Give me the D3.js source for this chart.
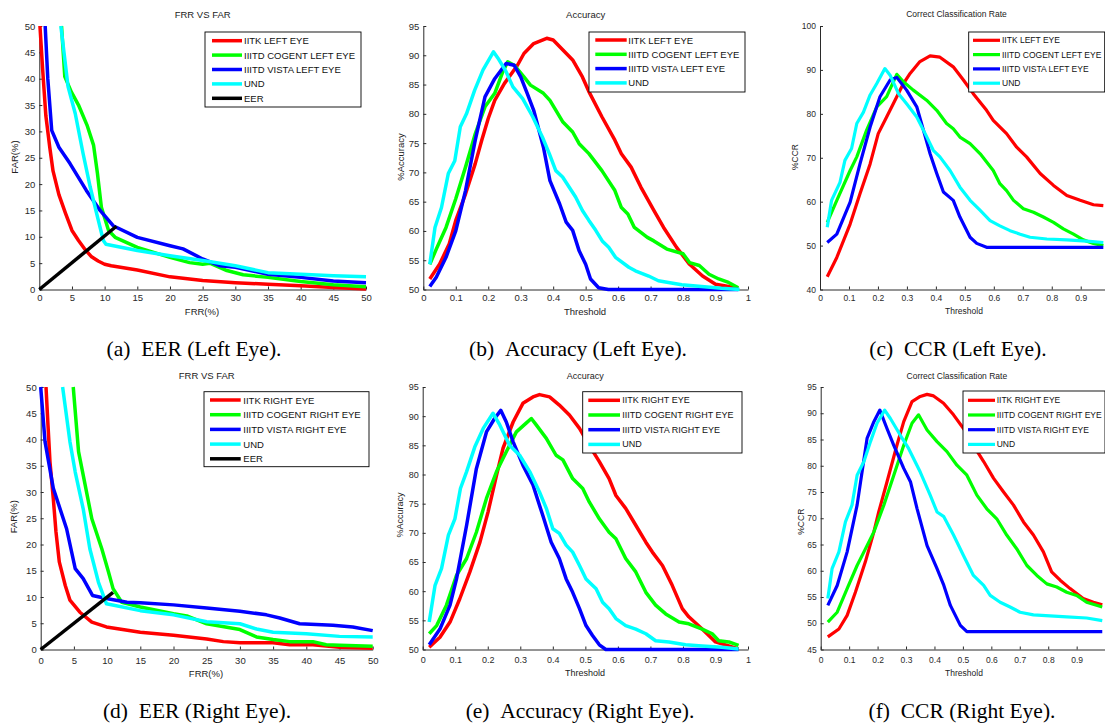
<!DOCTYPE html>
<html lang="en">
<head>
<meta charset="UTF-8">
<title>EER, Accuracy and CCR curves</title>
<script src="https://d3js.org/d3.v7.min.js"></script>
<style>
  body { margin: 0; background: #fff; }
  svg { display: block; }
  .cap { font-family: "Liberation Serif", "Times New Roman", serif; fill: #000; }
</style>
</head>
<body>
<div id="chart"></div>
<script>
// ---- data: [x, y] pairs ----
// (a) EER left eye  [FRR %, FAR %]
const eerLeftIitk   = [[0.1,50],[0.5,42],[1,33],[1.6,27],[2.1,22.5],[3,18],[4,14.5],[5,11.2],[6,9.3],[7,7.6],[8,6.2],[9,5.4],[10,4.8],[11,4.5],[15,3.7],[20,2.4],[25,1.7],[30,1.3],[35,1.0],[40,0.7],[45,0.4],[50,0.1]];
const eerLeftCogent = [[3.4,50],[3.9,40.4],[4.9,37.5],[6,35],[7.3,31.2],[8.3,27.4],[8.9,22],[9.5,15.6],[10.6,11.2],[11.6,9.9],[15,8],[20,6.1],[23,5.1],[25,4.8],[26.1,5],[28.7,3.6],[31.2,2.8],[35,2.3],[40,1.5],[45,0.9],[50,0.5]];
const eerLeftVista  = [[0.9,50],[1.3,40],[1.9,30.2],[3,27],[4.7,23.9],[7.2,18.8],[9.3,15],[11.3,12.1],[15,9.9],[20,8.3],[22,7.7],[25,5.8],[27.7,4.5],[30,4.2],[35,2.9],[40,2.3],[45,1.6],[50,1.3]];
const eerLeftUnd    = [[3.3,50],[4.4,38.5],[5.5,33.4],[6.7,25.8],[7.8,19.4],[8.8,14.3],[9.8,9.3],[10.2,8.6],[15,7.4],[20,6.4],[25,5.5],[30,4.5],[35,3.2],[40,2.9],[45,2.6],[50,2.4]];
const eerLeftLine   = [[0,0],[11.8,12]];

// (d) EER right eye
const eerRightIitk   = [[0.8,50],[1.1,42.7],[1.4,35.7],[1.9,28.7],[2.3,22.4],[2.8,16.7],[3.7,12.2],[4.4,9.4],[5.9,7.1],[7.7,5.2],[9.9,4.3],[15,3.3],[20,2.7],[25,2.0],[27.5,1.5],[30,1.3],[35,1.3],[37.5,0.9],[41,0.9],[45,0.45],[50,0.25]];
const eerRightCogent = [[4.9,50],[5.7,37.7],[6.7,31.3],[7.7,24.9],[9.2,19.2],[10.2,14.8],[10.9,11.6],[12.2,9],[15,8.1],[20,6.8],[22,6.4],[25,4.9],[30,3.8],[32.5,2.4],[35,1.9],[37.5,1.5],[41,1.5],[43,0.9],[45,0.8],[50,0.6]];
const eerRightVista  = [[0,50],[0.65,39.6],[1.9,30.7],[3.9,23],[5.2,15.4],[6.4,13.5],[7.8,10.3],[9.9,9.7],[13,9],[15,8.9],[20,8.5],[25,7.9],[30,7.3],[34,6.6],[36,6.0],[39,4.9],[44,4.6],[47,4.3],[50,3.6]];
const eerRightUnd    = [[3.3,50],[4.4,39.6],[5.2,33.8],[6.4,26.8],[7.4,19.2],[8.7,12.8],[9.9,8.7],[15,7.4],[20,6.6],[25,5.3],[30,4.9],[32.5,3.9],[35,3.3],[40,3.0],[45,2.5],[50,2.4]];
const eerRightLine   = [[0,0],[10.9,10.9]];

// (b) accuracy left eye  [threshold, %accuracy]
const accLeftIitk   = [[0.02,51.8],[0.05,54.3],[0.08,57.8],[0.1,61.8],[0.13,66.3],[0.16,71.5],[0.18,75.5],[0.2,79.2],[0.22,82.3],[0.25,85.2],[0.29,88.3],[0.31,90.3],[0.34,92],[0.38,92.9],[0.4,92.6],[0.43,90.9],[0.46,89.2],[0.49,86.3],[0.51,83.8],[0.55,79.5],[0.59,75.5],[0.61,73.2],[0.64,70.9],[0.67,67.5],[0.71,63.5],[0.74,60.6],[0.78,57.2],[0.82,54.3],[0.86,52.3],[0.9,50.9],[0.94,50.5],[0.97,50.1]];
const accLeftCogent = [[0.02,54.3],[0.04,56.9],[0.07,60.6],[0.1,65.5],[0.13,70.9],[0.16,76.6],[0.19,81.2],[0.22,83.5],[0.245,87.2],[0.26,88.9],[0.28,88.3],[0.31,86.3],[0.33,84.9],[0.37,83.5],[0.39,82.3],[0.43,78.6],[0.46,76.9],[0.48,74.9],[0.51,73.2],[0.55,70.3],[0.59,66.9],[0.61,64],[0.63,62.9],[0.65,60.6],[0.69,58.9],[0.71,58.3],[0.75,56.9],[0.8,56.1],[0.82,54.6],[0.85,54.1],[0.88,52.6],[0.91,51.8],[0.94,51.2],[0.97,50.3]];
const accLeftVista  = [[0.02,50.5],[0.04,52.1],[0.07,55.5],[0.1,60],[0.13,66.9],[0.16,75.5],[0.19,82.9],[0.22,86],[0.255,88.6],[0.28,88.3],[0.3,86.3],[0.32,83.5],[0.34,80.6],[0.37,74.3],[0.39,68.6],[0.42,64.6],[0.44,61.5],[0.46,60.1],[0.48,56.6],[0.5,54.3],[0.515,51.8],[0.54,50.3],[0.57,50],[0.97,50]];
const accLeftUnd    = [[0.02,54.3],[0.036,60.6],[0.056,64],[0.077,69.8],[0.097,72],[0.114,77.8],[0.133,80],[0.158,84],[0.184,87.5],[0.216,90.6],[0.23,89.5],[0.255,87.2],[0.276,84.6],[0.306,82.6],[0.337,79.5],[0.367,76],[0.388,73.2],[0.408,70.3],[0.429,69.2],[0.449,67.5],[0.469,65.8],[0.49,63.5],[0.51,61.8],[0.531,60.1],[0.551,58.3],[0.571,57.2],[0.592,55.5],[0.633,53.8],[0.653,53.2],[0.694,52.3],[0.724,51.5],[0.755,51.2],[0.796,50.8],[0.857,50.5],[0.918,50.2],[0.974,50]];

// (c) CCR left eye  [threshold, %CCR]
const ccrLeftIitk   = [[0.025,42.9],[0.058,47.3],[0.104,54.9],[0.138,61.8],[0.173,68.6],[0.201,75.5],[0.23,79.3],[0.253,82.3],[0.288,86.9],[0.311,89.2],[0.345,91.9],[0.38,93.2],[0.414,92.9],[0.46,90.7],[0.495,87.7],[0.529,84.6],[0.575,80.8],[0.598,78.5],[0.644,75.5],[0.679,72.4],[0.713,70.2],[0.76,66.4],[0.806,63.7],[0.852,61.4],[0.898,60.3],[0.944,59.3],[0.978,59.1]];
const ccrLeftCogent = [[0.025,55.3],[0.058,60.3],[0.104,67.1],[0.127,70.2],[0.161,76.3],[0.196,81.6],[0.23,83.9],[0.265,89],[0.288,87.3],[0.322,85.4],[0.368,83.1],[0.403,80.8],[0.437,77.8],[0.46,76.6],[0.483,74.7],[0.518,73.2],[0.553,70.9],[0.598,67.1],[0.621,64.1],[0.644,62.5],[0.668,60.3],[0.702,58.4],[0.737,57.6],[0.771,56.5],[0.806,55.3],[0.84,53.8],[0.875,52.6],[0.909,51.3],[0.944,50.5],[0.978,50]];
const ccrLeftVista  = [[0.025,50.7],[0.058,52.6],[0.104,59.9],[0.138,68.6],[0.173,77],[0.207,83.9],[0.242,87.7],[0.265,88.3],[0.299,85.4],[0.334,81.6],[0.357,76.3],[0.38,70.9],[0.403,66.4],[0.426,62.2],[0.46,60.3],[0.483,56.5],[0.518,51.9],[0.541,50.5],[0.575,49.6],[0.978,49.6]];
const ccrLeftUnd    = [[0.025,54.2],[0.04,60.3],[0.069,64.4],[0.086,69.4],[0.109,72.1],[0.127,77.8],[0.15,80.4],[0.173,84.3],[0.196,86.9],[0.224,90.3],[0.242,88.8],[0.271,84.6],[0.299,82.3],[0.334,79.3],[0.363,75.5],[0.391,71.7],[0.414,70.2],[0.449,67.1],[0.483,63.3],[0.518,60.3],[0.553,58],[0.587,55.7],[0.621,54.5],[0.656,53.4],[0.691,52.6],[0.725,51.9],[0.783,51.5],[0.852,51.3],[0.921,51],[0.978,50.7]];

// (e) accuracy right eye
const accRightIitk   = [[0.02,50.4],[0.053,52.1],[0.084,54.7],[0.114,58.7],[0.145,63.3],[0.176,68.4],[0.201,73.6],[0.227,79.9],[0.247,84.5],[0.278,89],[0.308,92.2],[0.339,93.3],[0.359,93.7],[0.39,93.3],[0.42,91.9],[0.451,90.2],[0.482,87.9],[0.512,85],[0.543,82.2],[0.573,79.3],[0.594,76.4],[0.624,74.2],[0.655,71.3],[0.686,68.4],[0.706,66.7],[0.737,64.4],[0.767,61],[0.798,57],[0.818,55.6],[0.859,53.5],[0.9,51.3],[0.941,50.6],[0.971,50.1]];
const accRightCogent = [[0.02,52.7],[0.043,54.1],[0.073,57.6],[0.104,62.7],[0.135,65.6],[0.165,70.1],[0.196,75.9],[0.227,80.5],[0.257,83.9],[0.288,87.3],[0.318,88.8],[0.334,89.6],[0.349,88.5],[0.38,86.2],[0.41,83.3],[0.431,82.5],[0.461,79.3],[0.492,77.6],[0.512,75.3],[0.543,72.4],[0.573,70.1],[0.594,69],[0.624,65.6],[0.655,63.3],[0.686,59.8],[0.716,57.6],[0.747,56.1],[0.788,54.7],[0.818,54.4],[0.859,53.5],[0.89,52.7],[0.91,51.5],[0.941,51.3],[0.971,50.7]];
const accRightVista  = [[0.02,50.8],[0.053,53.5],[0.084,57.6],[0.104,62.1],[0.135,71.3],[0.165,81],[0.196,87.3],[0.221,89.6],[0.24,91],[0.257,89],[0.278,85.6],[0.308,81.6],[0.339,78.2],[0.369,73],[0.395,68.4],[0.42,65.6],[0.441,62.1],[0.461,59.8],[0.482,57],[0.502,54.1],[0.522,52.4],[0.543,50.8],[0.563,50],[0.971,50]];
const accRightUnd    = [[0.02,54.7],[0.038,61],[0.058,63.9],[0.079,69.6],[0.099,72.4],[0.116,77.6],[0.135,80.5],[0.16,84.7],[0.186,87.9],[0.216,90.5],[0.237,88.5],[0.267,85],[0.298,83.3],[0.329,80.5],[0.359,77],[0.38,74.2],[0.4,70.7],[0.42,69.9],[0.441,67.9],[0.461,66.7],[0.482,64.4],[0.502,62.1],[0.533,60.4],[0.553,58.1],[0.573,57],[0.594,55.3],[0.624,54.1],[0.655,53.5],[0.686,52.7],[0.716,51.5],[0.757,51.3],[0.808,50.8],[0.859,50.6],[0.92,50.4],[0.971,50.1]];

// (f) CCR right eye
const ccrRightIitk   = [[0.025,47.4],[0.064,48.9],[0.093,51.5],[0.122,55.9],[0.157,61.7],[0.187,67.4],[0.204,71.2],[0.233,76.9],[0.268,83.9],[0.292,88.4],[0.321,92.2],[0.35,93.2],[0.374,93.6],[0.397,93.3],[0.432,91.9],[0.467,89.7],[0.502,87.1],[0.537,83.9],[0.573,80.8],[0.608,77.6],[0.643,75],[0.678,72.5],[0.713,69.3],[0.748,66.8],[0.783,63.6],[0.812,59.8],[0.842,58.2],[0.877,56.6],[0.923,54.7],[0.959,54],[0.99,53.5]];
const ccrRightCogent = [[0.025,50.2],[0.058,52.1],[0.093,56.6],[0.128,61],[0.152,63.6],[0.187,67.4],[0.222,72.5],[0.257,78.2],[0.292,83.9],[0.321,88.1],[0.344,89.7],[0.374,86.8],[0.409,84.6],[0.444,82.7],[0.479,80.1],[0.514,78.2],[0.549,74.4],[0.584,71.8],[0.619,69.9],[0.654,66.8],[0.689,64.2],[0.725,61],[0.76,59.1],[0.795,57.5],[0.83,56.9],[0.865,55.9],[0.9,55.3],[0.935,54],[0.99,53.1]];
const ccrRightVista  = [[0.025,53.4],[0.058,57.2],[0.093,63.6],[0.128,72.5],[0.163,85.2],[0.187,88.4],[0.208,90.6],[0.233,87.1],[0.257,83.9],[0.292,79.5],[0.316,76.9],[0.339,71.8],[0.374,64.8],[0.409,60.4],[0.433,57.2],[0.456,53.4],[0.491,49.6],[0.514,48.4],[0.99,48.4]];
const ccrRightUnd    = [[0.025,54.7],[0.04,60.4],[0.064,63.6],[0.087,69.3],[0.11,72.5],[0.128,78.2],[0.152,80.8],[0.175,84.6],[0.198,88.1],[0.225,90.6],[0.245,89],[0.28,85.8],[0.309,83.3],[0.35,78.8],[0.385,74.4],[0.409,71.2],[0.433,70.3],[0.467,66.8],[0.502,62.9],[0.537,59.1],[0.573,57.2],[0.596,55.3],[0.631,54],[0.666,53.1],[0.701,52.1],[0.748,51.6],[0.806,51.4],[0.865,51.2],[0.935,51],[0.99,50.5]];

// legend names and tick values
const leftNames  = ["IITK LEFT EYE", "IIITD COGENT LEFT EYE", "IIITD VISTA LEFT EYE", "UND", "EER"];
const rightNames = ["IITK RIGHT EYE", "IIITD COGENT RIGHT EYE", "IIITD VISTA RIGHT EYE", "UND", "EER"];
const lineColors = ["#ff0000", "#00ff00", "#0000ff", "#00ffff", "#000000"];

const frrTicks   = d3.range(0, 51, 5);
const threshTicks = d3.range(0, 11).map(i => i / 10);
const threshTicks9 = d3.range(0, 10).map(i => i / 10);
const accTicks   = d3.range(50, 96, 5);
const ccrTicksL  = d3.range(40, 101, 10);
const ccrTicksR  = d3.range(45, 96, 5);

// layout of the six sub-figures
const panels = [
  { series: [eerLeftIitk, eerLeftCogent, eerLeftVista, eerLeftUnd, eerLeftLine], names: leftNames,
    xr: [39.3, 366], yr: [289.5, 26], xDom: [0, 50], yDom: [0, 50], xTicks: frrTicks, yTicks: frrTicks,
    title: "FRR VS FAR", titleY: 14, xLabel: "FRR(%)", xl: [202, 311], yLabel: "FAR(%)", yl: [14.7, 157],
    caption: "(a)\u00a0\u00a0EER (Left Eye).", cap: [194, 355.5], pad: 5, fs: 9.5, lw: 3.5,
    leg: { x: 205, y: 32, w: 156, h: 75, l0: 212, l1: 242, tx: 244, r0: 40.7, dr: 14.4 } },
  { series: [accLeftIitk, accLeftCogent, accLeftVista, accLeftUnd], names: leftNames,
    xr: [423.3, 748], yr: [289.5, 26], xDom: [0, 1], yDom: [50, 95], xTicks: threshTicks, yTicks: accTicks,
    title: "Accuracy", titleY: 14, xLabel: "Threshold", xl: [585, 311], yLabel: "%Accuracy", yl: [400, 157],
    caption: "(b)\u00a0\u00a0Accuracy (Left Eye).", cap: [578, 355.5], pad: 5, fs: 9.5, lw: 3.5,
    leg: { x: 589, y: 32, w: 156, h: 60, l0: 595.3, l1: 626.7, tx: 628.3, r0: 40, dr: 14.3 } },
  { series: [ccrLeftIitk, ccrLeftCogent, ccrLeftVista, ccrLeftUnd], names: leftNames,
    xr: [820, 1109.7], yr: [289.5, 26], xDom: [0, 1], yDom: [40, 100], xTicks: threshTicks9, yTicks: ccrTicksL,
    title: "Correct Classification Rate", titleY: 14, xLabel: "Threshold", xl: [964, 311], yLabel: "%CCR", yl: [795, 157],
    caption: "(c)\u00a0\u00a0CCR (Left Eye).", cap: [958, 355.5], pad: 5, fs: 8.5, lw: 3.2,
    leg: { x: 968.7, y: 32, w: 136, h: 60, l0: 973, l1: 1000, tx: 1002, r0: 40.3, dr: 14.3 } },
  { series: [eerRightIitk, eerRightCogent, eerRightVista, eerRightUnd, eerRightLine], names: rightNames,
    xr: [40.7, 372.7], yr: [649.5, 387], xDom: [0, 50], yDom: [0, 50], xTicks: frrTicks, yTicks: frrTicks,
    title: "FRR VS FAR", titleY: 375.7, xLabel: "FRR(%)", xl: [206, 673], yLabel: "FAR(%)", yl: [13.3, 516.7],
    caption: "(d)\u00a0\u00a0EER (Right Eye).", cap: [197, 718], pad: 7.5, fs: 9.5, lw: 3.5,
    leg: { x: 204, y: 391.7, w: 165, h: 75, l0: 210, l1: 240.7, tx: 243.3, r0: 400, dr: 14.7 } },
  { series: [accRightIitk, accRightCogent, accRightVista, accRightUnd], names: rightNames,
    xr: [422.7, 748], yr: [649.5, 387], xDom: [0, 1], yDom: [50, 95], xTicks: threshTicks, yTicks: accTicks,
    title: "Accuracy", titleY: 375.7, xLabel: "Threshold", xl: [585, 673], yLabel: "%Accuracy", yl: [400, 515],
    caption: "(e)\u00a0\u00a0Accuracy (Right Eye).", cap: [580, 718], pad: 7.5, fs: 9, lw: 3.5,
    leg: { x: 582.7, y: 391.7, w: 159.3, h: 61.3, l0: 588.3, l1: 620, tx: 622.3, r0: 400.3, dr: 14.7 } },
  { series: [ccrRightIitk, ccrRightCogent, ccrRightVista, ccrRightUnd], names: rightNames,
    xr: [820.7, 1105.1], yr: [649.5, 387], xDom: [0, 1], yDom: [45, 95], xTicks: threshTicks9, yTicks: ccrTicksR,
    title: "Correct Classification Rate", titleY: 375.7, xLabel: "Threshold", xl: [964, 673], yLabel: "%CCR", yl: [800.7, 521.7],
    caption: "(f)\u00a0\u00a0CCR (Right Eye).", cap: [962, 718], pad: 7.5, fs: 8.5, lw: 3.2,
    leg: { x: 963, y: 391, w: 142, h: 62, l0: 968, l1: 995, tx: 996.7, r0: 400.3, dr: 14.7 } }
];

const sans = '"Liberation Sans", Arial, sans-serif';

const svg = d3.select("#chart")
  .append("svg")
  .attr("width", 1105)
  .attr("height", 724);

svg.append("rect").attr("width", 1105).attr("height", 724).attr("fill", "#fff");

panels.forEach(p => {
  const x = d3.scaleLinear().domain(p.xDom).range(p.xr);
  const y = d3.scaleLinear().domain(p.yDom).range(p.yr);
  const g = svg.append("g");

  // axes (ticks point inward, no outer ticks)
  g.append("g")
    .attr("transform", `translate(0,${p.yr[0]})`)
    .call(d3.axisBottom(x).tickValues(p.xTicks).tickSizeInner(-3).tickSizeOuter(0)
      .tickPadding(p.pad).tickFormat(d3.format("~g")))
    .attr("font-size", p.fs).attr("font-family", sans).attr("color", "#2a2a2a");

  g.append("g")
    .attr("transform", `translate(${p.xr[0]},0)`)
    .call(d3.axisLeft(y).tickValues(p.yTicks).tickSizeInner(-3).tickSizeOuter(0).tickPadding(4))
    .attr("font-size", p.fs).attr("font-family", sans).attr("color", "#2a2a2a");

  // curves
  const line = d3.line().x(d => x(d[0])).y(d => y(d[1]));
  g.selectAll(".curve")
    .data(p.series)
    .enter()
    .append("path")
    .attr("class", "curve")
    .attr("d", d => line(d))
    .attr("fill", "none")
    .attr("stroke", (d, i) => lineColors[i])
    .attr("stroke-width", p.lw)
    .attr("stroke-linejoin", "round");

  // labels
  g.append("text")
    .attr("x", (p.xr[0] + Math.min(p.xr[1], 1105)) / 2 + (p.xr[1] > 1105 ? -6 : 0))
    .attr("y", p.titleY)
    .attr("text-anchor", "middle").attr("dominant-baseline", "central")
    .attr("font-family", sans).attr("font-size", p.fs).attr("fill", "#222")
    .text(p.title);

  g.append("text")
    .attr("x", p.xl[0]).attr("y", p.xl[1])
    .attr("text-anchor", "middle").attr("dominant-baseline", "central")
    .attr("font-family", sans).attr("font-size", p.fs).attr("fill", "#222")
    .text(p.xLabel);

  g.append("text")
    .attr("transform", `translate(${p.yl[0]},${p.yl[1]}) rotate(-90)`)
    .attr("text-anchor", "middle").attr("dominant-baseline", "central")
    .attr("font-family", sans).attr("font-size", p.fs).attr("fill", "#222")
    .text(p.yLabel);

  g.append("text")
    .attr("class", "cap")
    .attr("x", p.cap[0]).attr("y", p.cap[1])
    .attr("text-anchor", "middle")
    .attr("font-size", 21.5)
    .text(p.caption);

  // legend
  const L = p.leg;
  const legend = g.append("g");
  legend.append("rect")
    .attr("x", L.x).attr("y", L.y).attr("width", L.w).attr("height", L.h)
    .attr("fill", "#fff").attr("stroke", "#000").attr("stroke-width", 0.9);

  const rows = legend.selectAll(".row")
    .data(p.names.slice(0, p.series.length))
    .enter()
    .append("g")
    .attr("class", "row")
    .attr("transform", (d, i) => `translate(0,${L.r0 + i * L.dr})`);

  rows.append("line")
    .attr("x1", L.l0).attr("x2", L.l1)
    .attr("stroke", (d, i) => lineColors[i])
    .attr("stroke-width", p.lw);

  rows.append("text")
    .attr("x", L.tx)
    .attr("dominant-baseline", "central")
    .attr("font-family", sans).attr("font-size", p.fs).attr("fill", "#111")
    .text(d => d);
});
</script>
</body>
</html>
